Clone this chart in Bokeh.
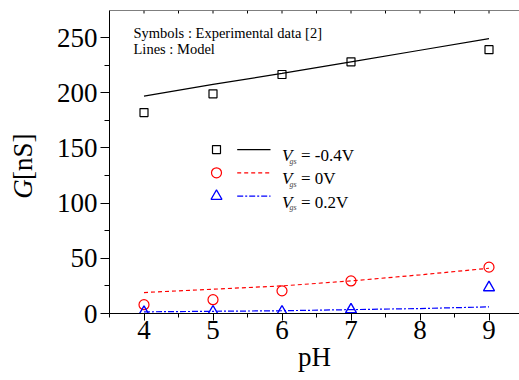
import math
from bokeh.plotting import figure
from bokeh.layouts import row
from bokeh.models import Range1d, Label, FixedTicker, Span
from bokeh.embed import file_html
from bokeh.resources import INLINE

# ---- data ----
ph_exp = [4, 5, 6, 7, 9]
g_exp_m04 = [182, 199, 216.5, 228, 239]
g_exp_0 = [8, 12.5, 20.5, 29.5, 42]
g_exp_02 = [1.2, 1.5, 1.5, 3.5, 23.5]

ph_model = [4, 5, 6, 7, 8, 9]
g_mod_m04 = [197, 207.5, 217.5, 228, 238.5, 249]
g_mod_0 = [19, 22, 25, 29.5, 35, 41]
g_mod_02 = [1.5, 2, 2.5, 3.5, 4.5, 6]

x_major = [4, 5, 6, 7, 8, 9]
x_minor = [3.5, 4.5, 5.5, 6.5, 7.5, 8.5, 9.5]
y_major = [0, 50, 100, 150, 200, 250]
y_minor = [25, 75, 125, 175, 225, 275]

legend_labels = ["= -0.4V", "= 0V", "= 0.2V"]

SERIF = "Liberation Serif"

X0, X1 = 3.5, 9.442
Y0, Y1 = 0, 274.5

W_TITLE = 50          # narrow figure holding the y-axis title
H = 380

# ---- narrow figure for the y axis title (italic G + [nS]) ----
pt = figure(width=W_TITLE, height=H, output_backend="svg", toolbar_location=None,
            x_range=Range1d(0, W_TITLE), y_range=Range1d(0, H), min_border=0)
pt.axis.visible = False
pt.xgrid.visible = False
pt.ygrid.visible = False
pt.outline_line_color = None
pt.background_fill_color = "white"
pt.border_fill_color = "white"
pt.add_layout(Label(x=22, y=144, angle=math.pi / 2,
                    text="G", text_font=SERIF, text_font_size="27px",
                    text_font_style="italic", text_color="black",
                    text_baseline="alphabetic", text_align="left"))
pt.add_layout(Label(x=22, y=167.5, angle=math.pi / 2,
                    text="[nS]", text_font=SERIF, text_font_size="27px",
                    text_color="black", text_baseline="alphabetic", text_align="left"))

# ---- main figure ----
p = figure(width=519 - W_TITLE, height=H, output_backend="svg", toolbar_location=None,
           x_range=Range1d(X0, X1), y_range=Range1d(Y0, Y1),
           min_border_left=109 - W_TITLE, min_border_right=0, min_border_top=10,
           min_border_bottom=67)
p.outline_line_color = None
p.xgrid.visible = False
p.ygrid.visible = False
p.background_fill_color = "white"
p.border_fill_color = "white"

# bottom axis
xa = p.xaxis[0]
xa.ticker = FixedTicker(ticks=x_major, minor_ticks=x_minor)
xa.major_tick_out = 7
xa.major_tick_in = 0
xa.minor_tick_out = 4
xa.minor_tick_in = 0
xa.major_label_text_font = SERIF
xa.major_label_text_font_size = "27px"
xa.major_label_standoff = 0
xa.axis_label = "pH"
xa.axis_label_text_font = SERIF
xa.axis_label_text_font_size = "27px"
xa.axis_label_text_font_style = "normal"
xa.axis_label_text_color = "black"
xa.axis_label_standoff = 0
xa.axis_line_color = "black"
xa.major_tick_line_color = "black"
xa.minor_tick_line_color = "black"
xa.major_label_text_color = "black"

# left axis
ya = p.yaxis[0]
ya.ticker = FixedTicker(ticks=y_major, minor_ticks=y_minor)
ya.major_tick_out = 9
ya.major_tick_in = 0
ya.minor_tick_out = 5
ya.minor_tick_in = 0
ya.major_label_text_font = SERIF
ya.major_label_text_font_size = "27px"
ya.major_label_standoff = 3
ya.axis_line_color = "black"
ya.major_tick_line_color = "black"
ya.minor_tick_line_color = "black"
ya.major_label_text_color = "black"

# top frame line with small inward ticks
p.add_layout(Span(location=Y1, dimension="width", line_color="black", line_width=1))
top_ticks = sorted(x_major + x_minor)
p.segment(x0=top_ticks, x1=top_ticks, y0=[Y1] * len(top_ticks),
          y1=[Y1 - 3 / 1.104] * len(top_ticks), line_color="black", line_width=1)

# model lines
p.line(ph_model, g_mod_m04, line_color="black", line_width=1.2)
p.line(ph_model, g_mod_0, line_color="#ff0000", line_width=1.2, line_dash="4 3")
p.line(ph_model, g_mod_02, line_color="#0000ff", line_width=1.2, line_dash="6 2 2 2")

# experimental symbols
p.scatter(ph_exp, g_exp_m04, marker="square", size=8, fill_color=None,
          line_color="black", line_width=1.2)
p.scatter(ph_exp, g_exp_0, marker="circle", size=10, fill_color=None,
          line_color="#ff0000", line_width=1.2)
p.scatter(ph_exp, g_exp_02, marker="triangle", size=11, fill_color=None,
          line_color="#0000ff", line_width=1.4)

# pixel -> data helpers for annotation placement (frame at left=109, bottom=313)
def px_x(px):
    return X0 + (px - 109) / 69.0

def px_y(py):
    return (313 - py) / 1.104

# note text
p.add_layout(Label(x=px_x(133), y=px_y(32), text="Symbols : Experimental data [2]",
                   text_font=SERIF, text_font_size="14.5px", text_color="black",
                   text_baseline="alphabetic"))
p.add_layout(Label(x=px_x(133), y=px_y(48), text="Lines : Model",
                   text_font=SERIF, text_font_size="14.5px", text_color="black",
                   text_baseline="alphabetic"))

# manual legend
rows_py = [149, 172.3, 195.7]
markers = ["square", "circle", "triangle"]
msizes = [8, 10, 11]
colors = ["black", "#ff0000", "#0000ff"]
dashes = ["solid", "4 3", "6 2 2 2"]
for i in range(3):
    ry = rows_py[i]
    p.scatter([px_x(216)], [px_y(ry)], marker=markers[i], size=msizes[i],
              fill_color=None, line_color=colors[i], line_width=1.2)
    p.line([px_x(236.7), px_x(270)], [px_y(ry), px_y(ry)], line_color=colors[i],
           line_width=1.2, line_dash=dashes[i])
    p.add_layout(Label(x=px_x(281.5), y=px_y(ry + 6), text="V", text_font=SERIF,
                       text_font_size="17px", text_font_style="italic",
                       text_color="black", text_baseline="alphabetic"))
    p.add_layout(Label(x=px_x(289), y=px_y(ry + 11.5), text="gs", text_font=SERIF,
                       text_font_size="8px", text_font_style="italic",
                       text_color="#444444", text_baseline="alphabetic"))
    p.add_layout(Label(x=px_x(300.5), y=px_y(ry + 6), text=legend_labels[i],
                       text_font=SERIF, text_font_size="17px",
                       text_color="black", text_baseline="alphabetic"))

layout = row(pt, p, spacing=0)
open("out.html", "w").write(file_html(layout, INLINE))
